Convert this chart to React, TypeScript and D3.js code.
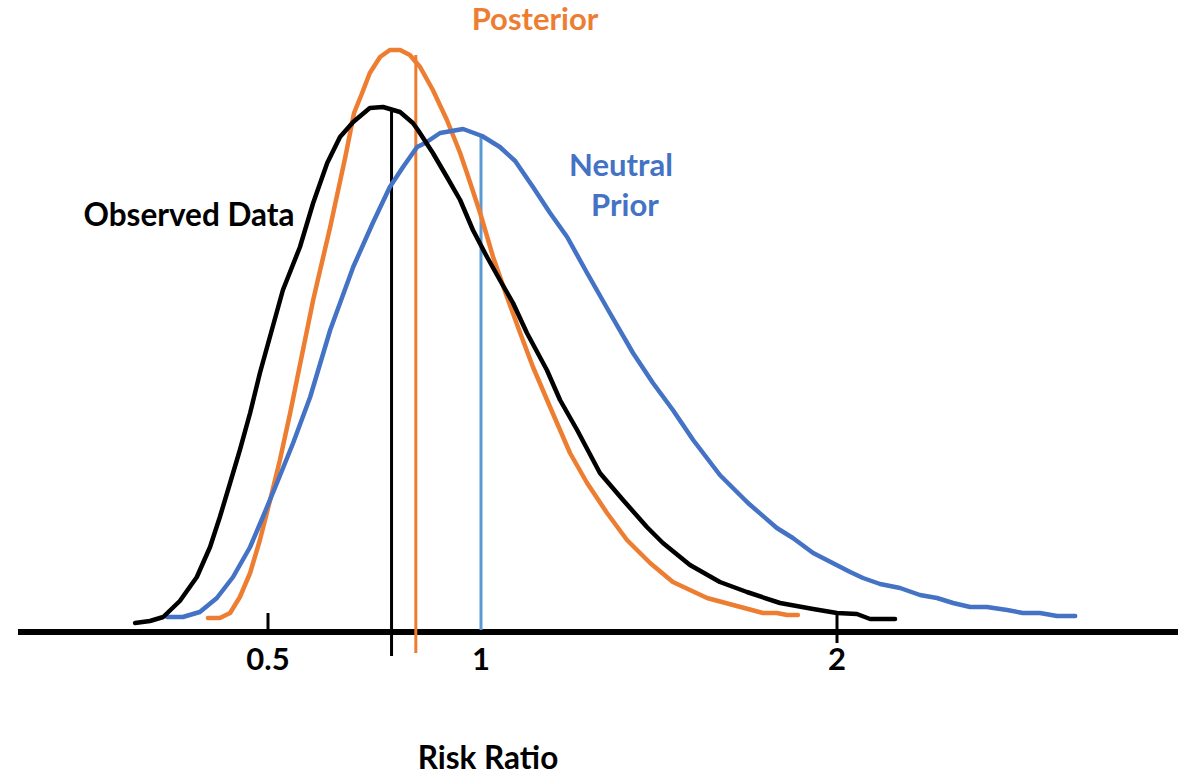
import React, { useEffect, useRef } from 'react'
import * as d3 from 'd3'

// risk ratio (x) and density (y)
const observedRR = [0.188, 0.223, 0.254, 0.293, 0.333, 0.364, 0.387, 0.411, 0.434, 0.458, 0.481, 0.535, 0.575, 0.606, 0.639, 0.669, 0.700, 0.739, 0.770, 0.810, 0.840, 0.852, 0.887, 0.920, 0.951, 0.981, 1.017, 1.053, 1.090, 1.129, 1.185, 1.222, 1.270, 1.334, 1.399, 1.466, 1.511, 1.587, 1.671, 1.747, 1.840, 1.933, 2.000, 2.056, 2.093, 2.163]
const observedDensity = [0.07, 0.09, 0.13, 0.29, 0.53, 0.83, 1.13, 1.47, 1.80, 2.17, 2.57, 3.40, 3.83, 4.27, 4.67, 4.93, 5.08, 5.22, 5.23, 5.18, 5.07, 5.00, 4.77, 4.53, 4.30, 4.00, 3.73, 3.50, 3.27, 2.97, 2.60, 2.30, 2.00, 1.57, 1.30, 1.03, 0.87, 0.65, 0.48, 0.38, 0.27, 0.21, 0.17, 0.16, 0.11, 0.11]

const posteriorRR = [0.359, 0.387, 0.411, 0.434, 0.458, 0.481, 0.505, 0.528, 0.552, 0.563, 0.606, 0.646, 0.681, 0.702, 0.721, 0.739, 0.763, 0.786, 0.810, 0.833, 0.857, 0.887, 0.920, 0.951, 0.967, 0.998, 1.034, 1.073, 1.110, 1.146, 1.194, 1.250, 1.298, 1.354, 1.410, 1.475, 1.539, 1.635, 1.708, 1.792, 1.831, 1.860, 1.890]
const posteriorDensity = [0.12, 0.12, 0.17, 0.33, 0.57, 0.90, 1.30, 1.70, 2.17, 2.40, 3.30, 4.03, 4.72, 5.17, 5.37, 5.57, 5.73, 5.80, 5.80, 5.75, 5.63, 5.40, 5.10, 4.77, 4.57, 4.17, 3.73, 3.33, 2.97, 2.63, 2.23, 1.77, 1.47, 1.17, 0.90, 0.67, 0.48, 0.32, 0.25, 0.17, 0.17, 0.15, 0.15]

const priorRR = [0.263, 0.300, 0.340, 0.380, 0.418, 0.458, 0.488, 0.521, 0.559, 0.599, 0.646, 0.700, 0.746, 0.786, 0.817, 0.850, 0.869, 0.904, 0.958, 1.003, 1.053, 1.096, 1.146, 1.194, 1.242, 1.298, 1.362, 1.427, 1.483, 1.539, 1.596, 1.671, 1.750, 1.831, 1.876, 1.933, 2.037, 2.073, 2.121, 2.177, 2.233, 2.281, 2.326, 2.374, 2.421, 2.478, 2.522, 2.570, 2.618, 2.669]
const priorDensity = [0.13, 0.13, 0.18, 0.32, 0.53, 0.83, 1.13, 1.47, 1.87, 2.33, 3.00, 3.63, 4.07, 4.43, 4.63, 4.83, 4.87, 4.97, 5.01, 4.94, 4.83, 4.69, 4.43, 4.17, 3.93, 3.57, 3.17, 2.77, 2.47, 2.20, 1.90, 1.55, 1.27, 1.02, 0.92, 0.77, 0.58, 0.52, 0.46, 0.42, 0.35, 0.32, 0.27, 0.23, 0.23, 0.20, 0.17, 0.17, 0.14, 0.14]

// centre lines of each distribution
const markerRR = [0.79, 0.847, 1.0]
const markerTop = [5.2, 5.75, 4.93]
const markerBottom = [-0.26, -0.23, 0]

const tickValues = [0.5, 1, 2]
const tickLabels = ['0.5', '1', '2']

const FONT = 'Lato, "Open Sans", sans-serif'

const App = () => {
  const ref = useRef(null)

  useEffect(() => {
    const svg = d3.select(ref.current)
    svg.selectAll('*').remove()

    // the axis is not linear nor log: spacing taken from the tick positions
    const x = d3.scaleLinear().domain([0.5, 1, 2]).range([268, 481, 837])
    const y = d3.scaleLinear().domain([0, 6]).range([630, 30])

    const line = d3.line().x(d => x(d[0])).y(d => y(d[1])).curve(d3.curveLinear)

    const series = [
      { rr: posteriorRR, dens: posteriorDensity, color: '#ED7D31' },
      { rr: priorRR, dens: priorDensity, color: '#4472C4' },
      { rr: observedRR, dens: observedDensity, color: '#000000' }
    ]
    const markerColors = ['#000000', '#ED7D31', '#5B9BD5']

    // x axis
    svg.append('line')
      .attr('x1', 18).attr('x2', 1178)
      .attr('y1', y(-0.02)).attr('y2', y(-0.02))
      .attr('stroke', '#000').attr('stroke-width', 6)

    const tickExt = { '0.5': [0.17, 0], '1': [0, 0], '2': [0.15, -0.13] }
    tickValues.forEach((v, i) => {
      const e = tickExt[tickLabels[i]]
      if (e[0] !== e[1]) {
        svg.append('line')
          .attr('x1', x(v)).attr('x2', x(v))
          .attr('y1', y(e[0])).attr('y2', y(e[1]))
          .attr('stroke', '#000').attr('stroke-width', 3)
      }
      svg.append('text')
        .attr('x', x(v)).attr('y', 670)
        .attr('text-anchor', 'middle')
        .attr('font-family', FONT).attr('font-weight', 700).attr('font-size', 31)
        .text(tickLabels[i])
    })

    // vertical centre lines
    markerRR.forEach((v, i) => {
      svg.append('line')
        .attr('x1', x(v)).attr('x2', x(v))
        .attr('y1', y(markerTop[i])).attr('y2', y(markerBottom[i]))
        .attr('stroke', markerColors[i]).attr('stroke-width', 3)
    })

    series.forEach(s => {
      svg.append('path')
        .datum(s.rr.map((r, i) => [r, s.dens[i]]))
        .attr('d', line)
        .attr('fill', 'none')
        .attr('stroke', s.color)
        .attr('stroke-width', 4.5)
        .attr('stroke-linejoin', 'round')
        .attr('stroke-linecap', 'round')
    })

    const labels = [
      { t: 'Posterior', x: 535, y: 30, c: '#ED7D31', s: 31 },
      { t: 'Neutral', x: 621, y: 176, c: '#4472C4', s: 31 },
      { t: 'Prior', x: 625, y: 216, c: '#4472C4', s: 31 },
      { t: 'Observed Data', x: 189, y: 226, c: '#000000', s: 31.5 },
      { t: 'Risk Ratio', x: 488, y: 769, c: '#000000', s: 31.5 }
    ]
    labels.forEach(l => {
      svg.append('text')
        .attr('x', l.x).attr('y', l.y)
        .attr('text-anchor', 'middle')
        .attr('font-family', FONT).attr('font-weight', 700).attr('font-size', l.s)
        .attr('fill', l.c)
        .text(l.t)
    })
  }, [])

  return (
    <div style={{ position: 'absolute', left: 0, top: 0 }}>
      <svg ref={ref} width={1182} height={778} style={{ display: 'block', background: '#fff' }} />
    </div>
  )
}

export default App
